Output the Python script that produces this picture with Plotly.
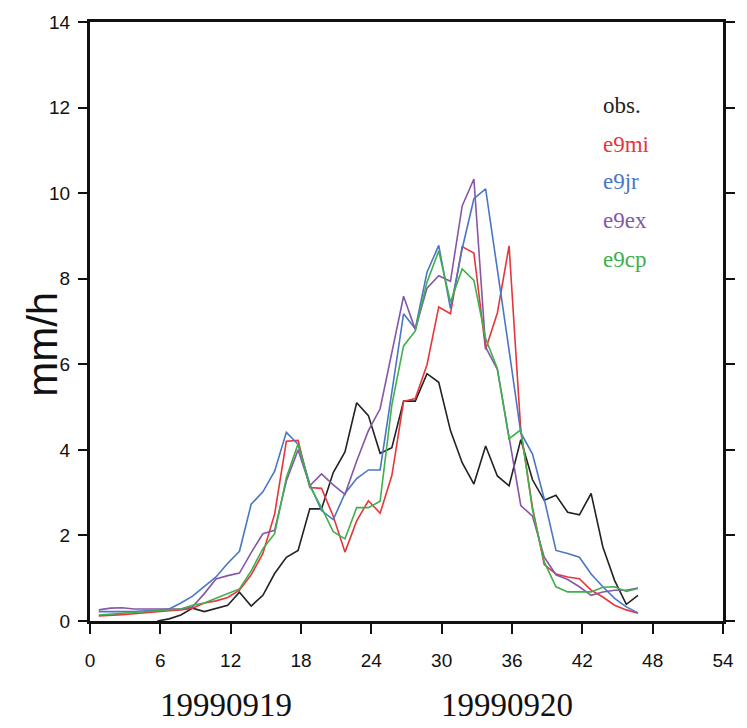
import plotly.graph_objects as go

hours = [0.75, 1.75, 2.75, 3.75, 4.75, 5.75, 6.75, 7.75, 8.75, 9.75,
         10.75, 11.75, 12.75, 13.75, 14.75, 15.75, 16.75, 17.75, 18.75, 19.75,
         20.75, 21.75, 22.75, 23.75, 24.75, 25.75, 26.75, 27.75, 28.75, 29.75,
         30.75, 31.75, 32.75, 33.75, 34.75, 35.75, 36.75, 37.75, 38.75, 39.75,
         40.75, 41.75, 42.75, 43.75, 44.75, 45.75, 46.75]

obs = [None, None, None, None, None, 0.0, 0.05, 0.14, 0.3, 0.22,
       0.3, 0.37, 0.67, 0.35, 0.6, 1.11, 1.49, 1.65, 2.62, 2.62,
       3.47, 3.95, 5.1, 4.8, 3.92, 4.05, 5.14, 5.14, 5.78, 5.58,
       4.45, 3.7, 3.2, 4.09, 3.39, 3.16, 4.24, 3.3, 2.82, 2.94,
       2.54, 2.48, 2.98, 1.73, 0.95, 0.39, 0.6]

e9mi = [0.12, 0.13, 0.15, 0.17, 0.2, 0.22, 0.24, 0.26, 0.3, 0.42,
        0.47, 0.55, 0.72, 1.08, 1.58, 2.5, 4.2, 4.22, 3.12, 3.1,
        2.45, 1.61, 2.34, 2.81, 2.52, 3.4, 5.13, 5.2, 5.99, 7.34,
        7.18, 8.75, 8.6, 6.35, 7.2, 8.77, 4.45, 2.65, 1.32, 1.1,
        1.03, 0.99, 0.72, 0.56, 0.37, 0.26, 0.18]

e9jr = [0.22, 0.22, 0.22, 0.22, 0.24, 0.25, 0.28, 0.42, 0.58, 0.8,
        1.03, 1.35, 1.63, 2.73, 3.02, 3.5, 4.41, 4.13, 3.2, 2.58,
        2.37, 2.98, 3.33, 3.53, 3.53, 5.35, 7.18, 6.83, 8.15, 8.78,
        7.3, 8.7, 9.87, 10.1, 8.25, 6.33, 4.4, 3.9, 2.85, 1.65,
        1.58, 1.49, 1.1, 0.8, 0.53, 0.33, 0.19]

e9ex = [0.26, 0.3, 0.31, 0.28, 0.28, 0.28, 0.27, 0.28, 0.33, 0.64,
        0.98, 1.06, 1.12, 1.6, 2.04, 2.12, 3.27, 4.0, 3.16, 3.44,
        3.18, 2.96, 3.74, 4.45, 4.96, 6.25, 7.59, 6.81, 7.78, 8.07,
        7.94, 9.7, 10.33, 6.4, 5.88, 4.3, 2.7, 2.45, 1.49, 1.08,
        0.97, 0.8, 0.6, 0.68, 0.72, 0.72, 0.77]

e9cp = [0.14, 0.16, 0.18, 0.2, 0.22, 0.24, 0.25, 0.28, 0.37, 0.42,
        0.53, 0.64, 0.75, 1.17, 1.69, 2.04, 3.35, 4.14, 3.15, 2.65,
        2.09, 1.92, 2.65, 2.65, 2.8, 5.05, 6.43, 6.78, 7.92, 8.65,
        7.45, 8.23, 7.96, 6.6, 5.9, 4.26, 4.47, 2.6, 1.38, 0.8,
        0.68, 0.68, 0.68, 0.79, 0.8, 0.69, 0.76]

series_names = ["obs.", "e9mi", "e9jr", "e9ex", "e9cp"]
series_values = [obs, e9mi, e9jr, e9ex, e9cp]
series_colors = ["#222222", "#e8353b", "#4a76c6", "#8657a8", "#3fb04a"]

x_ticks = [0, 6, 12, 18, 24, 30, 36, 42, 48, 54]
y_ticks = [0, 2, 4, 6, 8, 10, 12, 14]
date_labels = ["19990919", "19990920"]

fig = go.Figure()
for name, vals, col in zip(series_names, series_values, series_colors):
    fig.add_trace(go.Scatter(x=hours, y=vals, mode="lines", name=name,
                             line=dict(color=col, width=1.6),
                             connectgaps=False, showlegend=False))

tick_font = dict(family="Liberation Sans Narrow, Liberation Sans, Arial", size=19, color="#111111")

fig.update_layout(
    width=747, height=728,
    margin=dict(l=90, r=14, t=18, b=107),
    paper_bgcolor="white", plot_bgcolor="white",
    xaxis=dict(range=[0, 54], tickvals=x_ticks, ticktext=[str(v) for v in x_ticks],
               showgrid=False, zeroline=False, showline=True, linewidth=3,
               linecolor="#111111", mirror=True, ticks="outside", ticklen=10,
               tickwidth=2, tickcolor="#111111", tickfont=tick_font,
               ticklabelstandoff=10),
    yaxis=dict(range=[0, 14], tickvals=y_ticks, ticktext=[str(v) for v in y_ticks],
               showgrid=False, zeroline=False, showline=True, linewidth=3,
               linecolor="#111111", mirror="ticks", ticks="outside", ticklen=9,
               tickwidth=2, tickcolor="#111111", tickfont=tick_font,
               ticklabelstandoff=4),
)

# y-axis title
fig.add_annotation(text="mm/h", xref="paper", yref="paper",
                   x=-0.075, y=0.462, xanchor="center", yanchor="middle",
                   textangle=-90, showarrow=False,
                   font=dict(family="Liberation Sans, Arial", size=42, color="#111111"))

# date labels
for lbl, xd in zip(date_labels, [11.6, 35.6]):
    fig.add_annotation(text=lbl, xref="x", yref="paper", x=xd, y=-0.14,
                       xanchor="center", yanchor="middle", showarrow=False,
                       font=dict(family="Liberation Serif, Times New Roman", size=33, color="#111111"))

# legend text
legend_y = [102, 141, 179, 218, 257]
for name, col, py in zip(series_names, series_colors, legend_y):
    fig.add_annotation(text=name, xref="paper", yref="paper",
                       x=(609 - 90) / 643, y=(621 - py) / 603,
                       xanchor="left", yanchor="middle", showarrow=False,
                       font=dict(family="Liberation Serif, Times New Roman", size=23, color=col))

fig.write_html("out.html")
